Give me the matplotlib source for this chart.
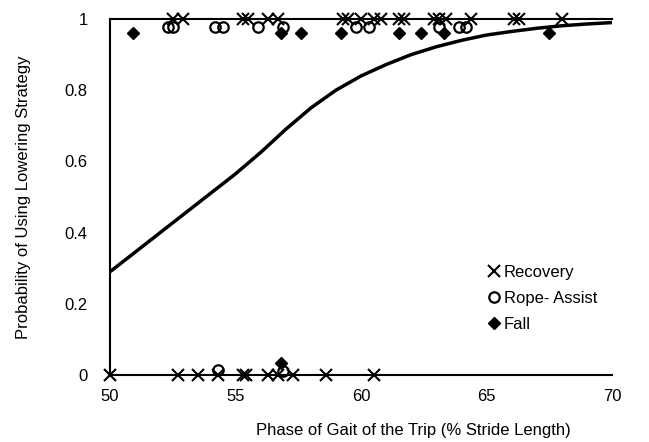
import matplotlib
matplotlib.use("Agg")
import matplotlib.pyplot as plt
from matplotlib.ticker import FuncFormatter

plt.rcParams['font.family'] = ['Liberation Sans', 'DejaVu Sans']

# observations (phase of gait, outcome level)
recovery_top_x = [52.5, 52.9, 55.3, 55.5, 56.3, 56.7, 59.3, 59.5, 60.0, 60.5, 60.8,
                  61.5, 61.7, 62.9, 63.1, 63.4, 64.4, 66.1, 66.3, 68.0]
recovery_bot_x = [50.0, 52.7, 53.5, 54.3, 55.3, 55.4, 56.3, 56.7, 57.3, 58.6, 60.5]
rope_top_x = [52.3, 52.5, 54.2, 54.5, 55.9, 56.9, 59.8, 60.3, 63.1, 63.9, 64.2]
rope_bot_x = [54.3, 56.9]
fall_top_x = [50.9, 56.8, 57.6, 59.2, 61.5, 62.4, 63.3, 67.5]
fall_bot_x = [56.8]

recovery_top_y = 1.0
recovery_bot_y = 0.0
rope_top_y = 0.978
rope_bot_y = [0.015, 0.01]
fall_top_y = 0.96
fall_bot_y = 0.035

# fitted probability curve
curve_x = [50, 51, 52, 53, 54, 55, 56, 57, 58, 59, 60, 61, 62, 63, 64, 65, 66, 67, 68, 69, 70]
curve_y = [0.29, 0.345, 0.40, 0.455, 0.51, 0.565, 0.625, 0.69, 0.75, 0.80, 0.84, 0.872,
           0.90, 0.922, 0.94, 0.955, 0.965, 0.974, 0.981, 0.986, 0.99]

fig = plt.figure(figsize=(6.49, 4.42), dpi=100)
ax = fig.add_axes([0.1695, 0.1516, 0.7735, 0.8054])

ax.plot(curve_x, curve_y, color='black', lw=2.5, zorder=2)

ax.plot(recovery_top_x, [recovery_top_y] * len(recovery_top_x), 'x', color='black',
        ms=8, mew=1.5, zorder=4, clip_on=False, label='Recovery')
ax.plot(recovery_bot_x, [recovery_bot_y] * len(recovery_bot_x), 'x', color='black',
        ms=8, mew=1.5, zorder=4, clip_on=False)
ax.plot(rope_top_x, [rope_top_y] * len(rope_top_x), 'o', mfc='none', mec='black',
        ms=7.5, mew=1.6, zorder=4, clip_on=False, label='Rope- Assist')
ax.plot(rope_bot_x, rope_bot_y, 'o', mfc='none', mec='black',
        ms=7.5, mew=1.6, zorder=4, clip_on=False)
ax.plot(fall_top_x, [fall_top_y] * len(fall_top_x), 'D', color='black',
        ms=6.5, zorder=3, clip_on=False, label='Fall')
ax.plot(fall_bot_x, [fall_bot_y], 'D', color='black', ms=6.5, zorder=3, clip_on=False)

ax.set_xlim(50, 70)
ax.set_ylim(0, 1)
ax.set_xticks([50, 55, 60, 65, 70])
ax.set_yticks([0, 0.2, 0.4, 0.6, 0.8, 1.0])
ax.yaxis.set_major_formatter(FuncFormatter(lambda v, p: '%g' % v))
ax.tick_params(length=0, labelsize=12)
ax.tick_params(axis='y', pad=16)
ax.tick_params(axis='x', pad=10)

ax.spines['right'].set_visible(False)
for s in ['left', 'bottom', 'top']:
    ax.spines[s].set_linewidth(1.5)

ax.set_xlabel('Phase of Gait of the Trip (% Stride Length)', fontsize=12)
ax.xaxis.set_label_coords(0.605, -0.135)
ax.set_ylabel('Probability of Using Lowering Strategy', fontsize=12, labelpad=24)

ax.legend(loc='lower right', bbox_to_anchor=(1.0, 0.08), frameon=False, fontsize=12,
          handlelength=0.6, handletextpad=0.25, labelspacing=0.65)

fig.savefig('out.png', dpi=100)
